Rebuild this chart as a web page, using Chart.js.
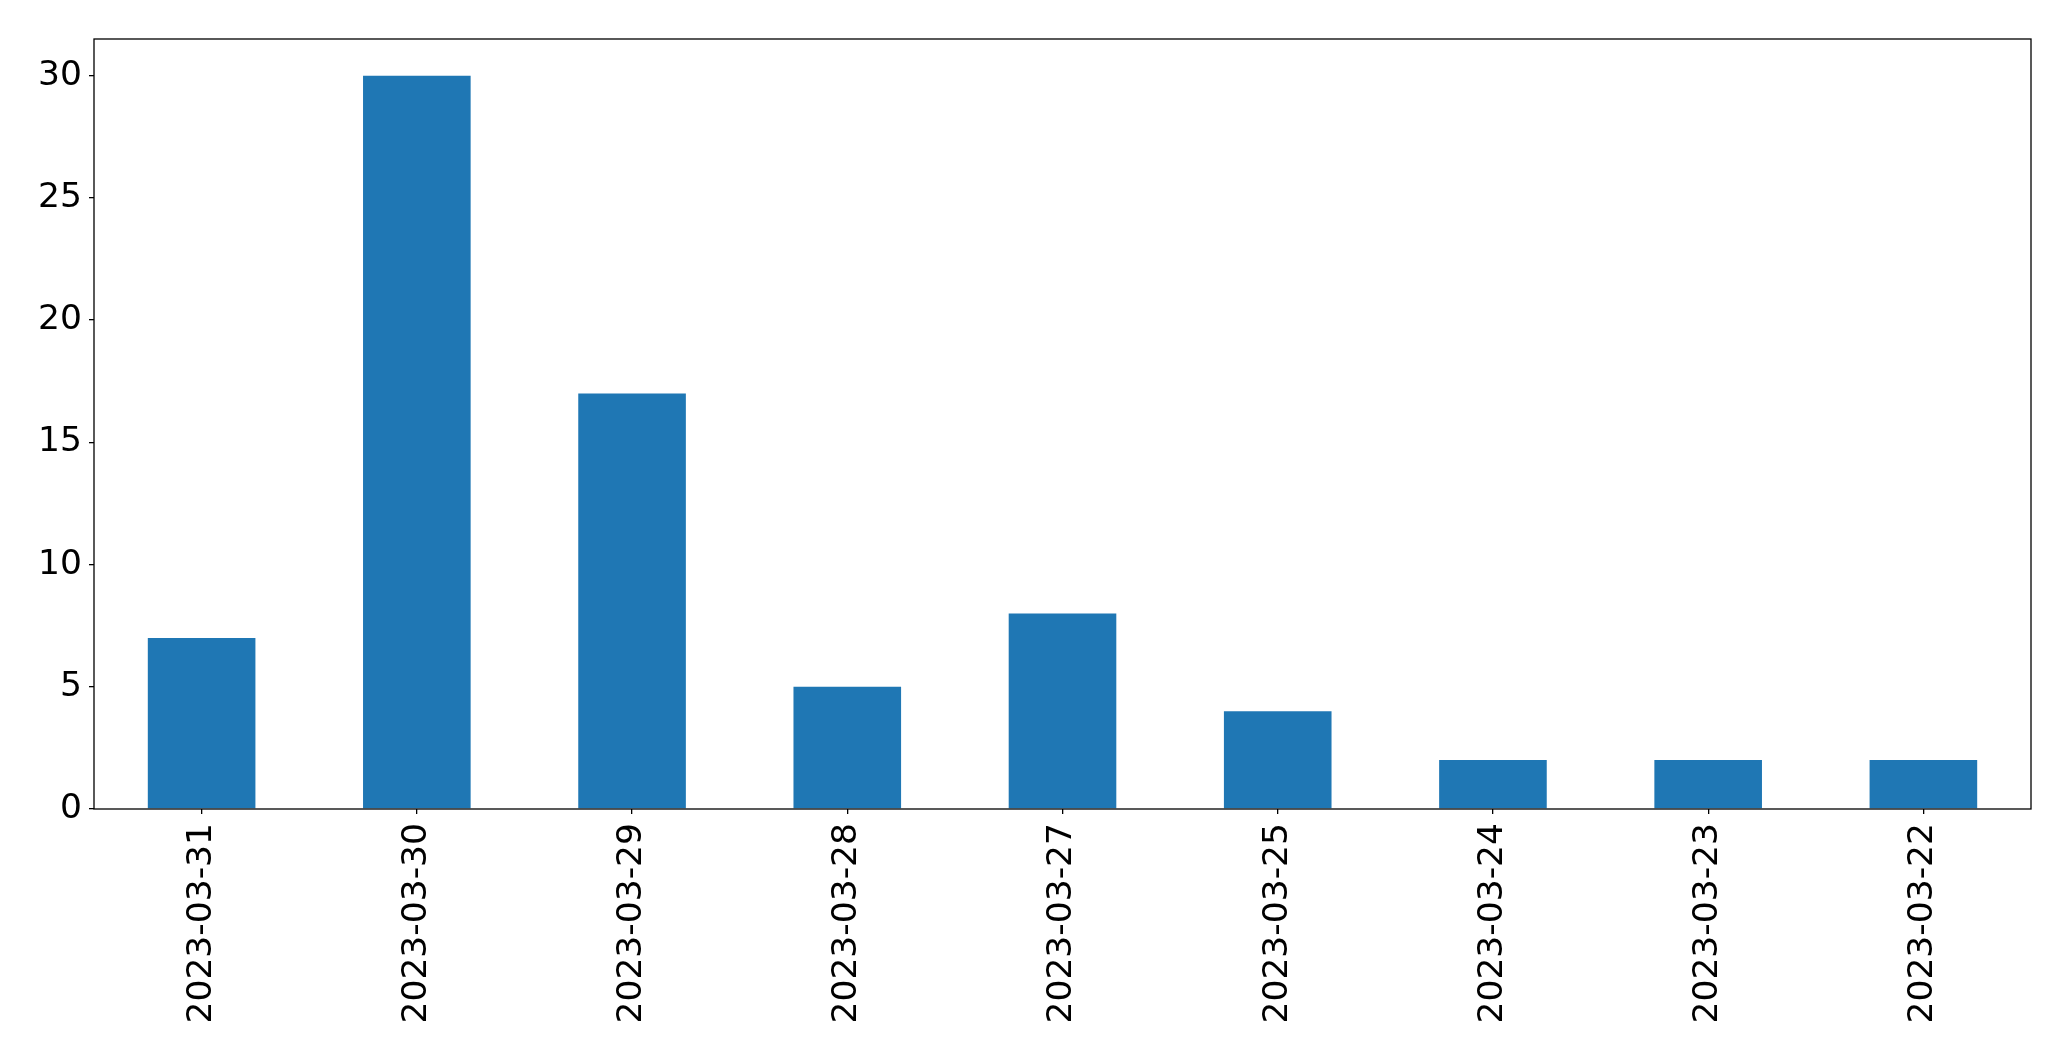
<!DOCTYPE html>
<html>
<head>
<meta charset="utf-8">
<script src="https://cdn.jsdelivr.net/npm/chart.js@4"></script>
<style>
html,body{margin:0;padding:0;background:#fff;}
#wrap{width:2071px;height:1061px;position:relative;}
</style>
</head>
<body>
<div id="wrap"><canvas id="c" width="2071" height="1061"></canvas></div>
<script>
const categories = ["2023-03-31","2023-03-30","2023-03-29","2023-03-28","2023-03-27","2023-03-25","2023-03-24","2023-03-23","2023-03-22"];
const counts = [7, 30, 17, 5, 8, 4, 2, 2, 2];
const yTicks = [0, 5, 10, 15, 20, 25, 30];

const frame = {
  id: 'frame',
  afterDatasetsDraw(chart) {
    const a = chart.chartArea, ctx = chart.ctx;
    ctx.save();
    ctx.strokeStyle = '#000';
    ctx.lineWidth = 1.3;
    ctx.strokeRect(a.left, a.top, a.right - a.left, a.bottom - a.top);
    ctx.restore();
  }
};

new Chart(document.getElementById('c'), {
  type: 'bar',
  data: {
    labels: categories,
    datasets: [{
      data: counts,
      backgroundColor: '#1f77b4',
      borderWidth: 0,
      barPercentage: 0.5,
      categoryPercentage: 1.0
    }]
  },
  options: {
    responsive: false,
    animation: false,
    devicePixelRatio: 1,
    layout: { padding: { top: 39, right: 40, left: 0, bottom: 0 } },
    plugins: { legend: { display: false }, tooltip: { enabled: false } },
    scales: {
      x: {
        grid: { offset: false, drawOnChartArea: false, drawTicks: true, tickLength: 5, color: '#000', lineWidth: 1.3 },
        border: { display: false },
        ticks: {
          color: '#000', maxRotation: 90, minRotation: 90, autoSkip: false, padding: 9,
          font: { family: 'DejaVu Sans', size: 34.5 }
        },
        afterFit(s) { s.height = 252; }
      },
      y: {
        min: 0, max: 31.5,
        grid: { drawOnChartArea: false, drawTicks: true, tickLength: 5, color: '#000', lineWidth: 1.3 },
        border: { display: false },
        afterBuildTicks(s) { s.ticks = yTicks.map(v => ({ value: v })); },
        ticks: {
          color: '#000', padding: 7,
          font: { family: 'DejaVu Sans', size: 34.5 }
        },
        afterFit(s) { s.width = 94; }
      }
    }
  },
  plugins: [frame]
});
</script>
</body>
</html>
